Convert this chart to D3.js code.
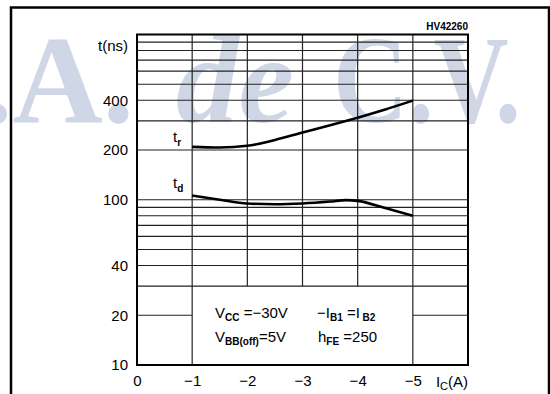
<!DOCTYPE html>
<html>
<head>
<meta charset="utf-8">
<script src="https://cdn.jsdelivr.net/npm/d3@7"></script>
<style>
  body { margin: 0; background: #fff; }
  svg { display: block; font-family: "Liberation Sans", Arial, sans-serif; }
</style>
</head>
<body>
<svg id="chart" width="550" height="394"></svg>
<script>
// values
const trCurrent = [-1, -1.5, -2, -2.5, -3, -3.5, -4, -4.5, -5]
const trTime = [209, 207, 212, 230, 255, 282, 314, 352, 398]
const tdCurrent = [-1, -1.5, -2, -2.5, -3, -3.5, -3.8, -4, -4.5, -5]
const tdTime = [106, 100, 95, 94, 95, 97.5, 99.5, 98.5, 89, 80]

const yTickValues = [10, 20, 40, 100, 200, 400]
const yGridFull = [30, 40, 50, 60, 70, 80, 90, 100, 200, 300, 400, 500, 600, 700, 800, 900]
const yGridPartial = [20]
const xTickValues = [0, -1, -2, -3, -4, -5]
const xGridFull = [-1, -5]
const xGridPartial = [-2, -3, -4]

const svg = d3.select("#chart")
const plotLeft = 137, plotRight = 468, plotTop = 34.5, plotBottom = 365

let x = d3.scaleLinear().domain([0, -6]).range([plotLeft, plotRight])
let y = d3.scaleLog().domain([10, 1000]).range([plotBottom, plotTop])

// watermark behind everything
let wm = svg.append("g")
  .style("font-family", "'Liberation Serif', 'Times New Roman', serif")
  .style("font-weight", "bold")
  .style("font-size", "125px")
  .attr("fill", "#cfd6e6")
wm.append("text").attr("x", 134).attr("y", 122).attr("text-anchor", "end").text("S.A.")
wm.append("text").attr("x", 176).attr("y", 122).style("font-style", "italic").text("de")
wm.append("text").attr("x", 333).attr("y", 122)
  .attr("textLength", 188).attr("lengthAdjust", "spacingAndGlyphs").text("C.V.")

// outer frame
svg.append("path")
  .attr("d", "M11,394V7.5H549V394")
  .attr("fill", "none").attr("stroke", "#000").attr("stroke-width", 2.5)

svg.append("text")
  .attr("x", plotRight).attr("y", 30)
  .attr("text-anchor", "end")
  .style("font-size", "10px").style("font-weight", "bold")
  .text("HV42260")

// grid
let grid = svg.append("g").attr("stroke", "#222").attr("stroke-width", 1.2)
grid.selectAll(".hf").data(yGridFull).enter().append("line")
  .attr("x1", plotLeft).attr("x2", plotRight)
  .attr("y1", d => y(d)).attr("y2", d => y(d))
yGridPartial.forEach(v => {
  grid.append("line").attr("x1", plotLeft).attr("x2", x(-1)).attr("y1", y(v)).attr("y2", y(v))
  grid.append("line").attr("x1", x(-5)).attr("x2", plotRight).attr("y1", y(v)).attr("y2", y(v))
})
grid.selectAll(".vf").data(xGridFull).enter().append("line")
  .attr("x1", d => x(d)).attr("x2", d => x(d))
  .attr("y1", y(10)).attr("y2", y(1000))
grid.selectAll(".vp").data(xGridPartial).enter().append("line")
  .attr("x1", d => x(d)).attr("x2", d => x(d))
  .attr("y1", y(30)).attr("y2", y(1000))

svg.append("rect")
  .attr("x", plotLeft).attr("y", plotTop)
  .attr("width", plotRight - plotLeft).attr("height", plotBottom - plotTop)
  .attr("fill", "none").attr("stroke", "#000").attr("stroke-width", 2)

// axes (labels only, the frame draws the lines)
let yAxis = d3.axisLeft(y).tickValues(yTickValues).tickSize(0).tickPadding(9).tickFormat(d3.format("d"))
let yg = svg.append("g").attr("transform", "translate(" + plotLeft + ",0)").call(yAxis)
let xAxis = d3.axisBottom(x).tickValues(xTickValues).tickSize(0).tickPadding(10)
  .tickFormat(d => d === 0 ? "0" : "\u2212" + Math.abs(d))
let xg = svg.append("g").attr("transform", "translate(0," + plotBottom + ")").call(xAxis)
;[yg, xg].forEach(g => {
  g.select(".domain").remove()
  g.selectAll("text").style("font-size", "15px").style("font-family", "'Liberation Sans', Arial, sans-serif").attr("fill", "#000")
})

svg.append("text").attr("x", 128).attr("y", 51).attr("text-anchor", "end")
  .style("font-size", "15px").text("t(ns)")

let ic = svg.append("text").attr("x", plotRight).attr("y", 387).attr("text-anchor", "end").style("font-size", "15px")
ic.append("tspan").text("I")
ic.append("tspan").attr("dy", 3).style("font-size", "11px").text("C")
ic.append("tspan").attr("dy", -3).text("(A)")

// curves
let line = d3.line().x(d => x(d[0])).y(d => y(d[1])).curve(d3.curveMonotoneX)
let series = [
  {name: "r", pts: d3.zip(trCurrent, trTime), lx: 173, ly: 142},
  {name: "d", pts: d3.zip(tdCurrent, tdTime), lx: 173, ly: 188}
]
series.forEach(s => {
  svg.append("path").attr("d", line(s.pts))
    .attr("fill", "none").attr("stroke", "#000").attr("stroke-width", 2.6)
  let t = svg.append("text").attr("x", s.lx).attr("y", s.ly).style("font-size", "15px")
  t.append("tspan").text("t")
  t.append("tspan").attr("dy", 4).style("font-size", "10px").style("font-weight", "bold").text(s.name)
})

// conditions box text
function condLine(yy, parts) {
  let t = svg.append("text").attr("y", yy).style("font-size", "15px")
  parts.forEach(p => {
    let ts = t.append("tspan").text(p.t)
    if (p.x !== undefined) ts.attr("x", p.x)
    if (p.sub) ts.attr("dy", 3).style("font-size", "10px").style("font-weight", "bold")
    if (p.up) ts.attr("dy", -3)
  })
}
condLine(318, [
  {t: "V", x: 215}, {t: "CC", sub: true}, {t: " =\u221230V", up: true},
  {t: "\u2212I", x: 317}, {t: "B1", sub: true}, {t: " =I", up: true}, {t: " B2", sub: true}
])
condLine(342, [
  {t: "V", x: 215}, {t: "BB(off)", sub: true}, {t: "=5V", up: true},
  {t: "h", x: 318}, {t: "FE", sub: true}, {t: " =250", up: true}
])
</script>
</body>
</html>
